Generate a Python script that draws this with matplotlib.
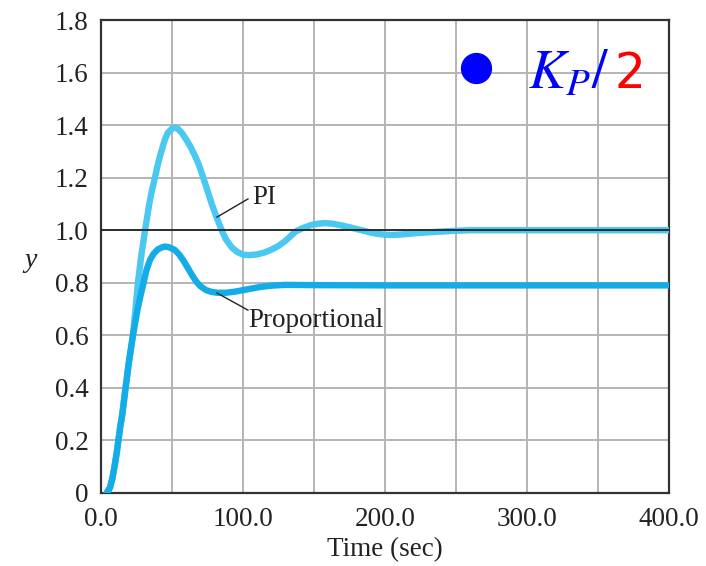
import matplotlib
matplotlib.use("Agg")
import matplotlib.pyplot as plt

# ---- data ----
t_pi = [4, 6.3, 8, 9.5, 11, 12, 13.5, 15, 17.3, 19.7, 22.5, 24.3, 26, 28.3, 31, 34, 36, 38, 40,
        42.5, 45, 47, 50, 52, 54, 57, 60, 63, 66, 69, 72, 75, 78, 81, 85, 88, 92, 96, 100, 104,
        110, 115, 120, 125, 130, 137, 142, 148, 153, 158, 163, 168, 176, 185, 190, 195, 200,
        205, 212, 220, 230, 240, 250, 260, 300, 350, 400]
y_pi = [0.0, 0.02, 0.055, 0.1, 0.15, 0.19, 0.25, 0.3, 0.4, 0.5, 0.6, 0.7, 0.8, 0.9, 1.0, 1.1, 1.155, 1.2, 1.25,
        1.3, 1.345, 1.37, 1.387, 1.39, 1.387, 1.37, 1.345, 1.318, 1.285, 1.248, 1.2, 1.15, 1.1, 1.055, 1.0, 0.965, 0.935, 0.917, 0.907, 0.905,
        0.908, 0.915, 0.926, 0.94, 0.96, 0.995, 1.008, 1.02, 1.025, 1.027, 1.025, 1.02, 1.01, 0.998, 0.991, 0.986, 0.983,
        0.982, 0.984, 0.988, 0.992, 0.995, 0.998, 1.0, 1.0, 1.0, 1.0]

t_p = [4, 6.3, 8, 9.5, 11, 12, 13.5, 15, 17.3, 19.7, 22.5, 25.8, 28, 30, 32, 34.5, 37, 40, 43, 45,
       48, 52, 55, 58, 61, 64, 67, 70, 74, 78, 82, 88, 94, 100, 106, 112, 120, 130, 150, 200, 300, 400]
y_p = [0.0, 0.02, 0.055, 0.1, 0.15, 0.19, 0.25, 0.3, 0.4, 0.5, 0.6, 0.7, 0.755, 0.8, 0.848, 0.887, 0.91, 0.927, 0.935, 0.938,
       0.935, 0.925, 0.908, 0.885, 0.858, 0.83, 0.805, 0.787, 0.772, 0.765, 0.762, 0.762, 0.766, 0.772, 0.778, 0.784, 0.789, 0.792, 0.791, 0.79, 0.79, 0.79]

x_ticks = [0, 100, 200, 300, 400]
x_ticklabels = ["0.0", "100.0", "200.0", "300.0", "400.0"]
y_ticks = [0, 0.2, 0.4, 0.6, 0.8, 1.0, 1.2, 1.4, 1.6, 1.8]
y_ticklabels = ["0", "0.2", "0.4", "0.6", "0.8", "1.0", "1.2", "1.4", "1.6", "1.8"]

W, H = 706, 566
plt.rcParams['font.family'] = ['Liberation Serif', 'DejaVu Serif']
plt.rcParams['mathtext.fontset'] = 'stix'

fig = plt.figure(figsize=(W / 100, H / 100), dpi=100)
ax = fig.add_axes([101 / W, 1 - 493 / H, (669 - 101) / W, (493 - 20) / H])

ax.set_xlim(0, 400)
ax.set_ylim(0, 1.8)
ax.set_xticks(x_ticks)
ax.set_xticklabels(x_ticklabels)
ax.set_xticks([50, 150, 250, 350], minor=True)
ax.set_yticks(y_ticks)
ax.set_yticklabels(y_ticklabels)
ax.tick_params(which='both', length=0, labelsize=19.5, colors='#222222')
ax.tick_params(axis='x', pad=10)
ax.tick_params(axis='y', pad=9)
ax.grid(True, which='both', color='#b4b4b4', linewidth=1.4)
ax.set_axisbelow(True)
for s in ax.spines.values():
    s.set_color('#333333')
    s.set_linewidth(1.6)

ax.plot(t_pi, y_pi, color='#4ac8f2', linewidth=4.6, solid_capstyle='round',
        solid_joinstyle='round', zorder=3)
ax.plot(t_p, y_p, color='#14ace6', linewidth=4.6, solid_capstyle='round',
        solid_joinstyle='round', zorder=4)
ax.axhline(1.0, color='#222222', linewidth=1.3, zorder=5)

# annotations
ax.plot([81.7, 103.5], [1.05, 1.119], color='#222222', linewidth=1.0, zorder=6)
ax.text(106.3, 1.10, 'PI', fontsize=19.5, ha='left', va='baseline', color='#222222')
ax.plot([81.7, 103.5], [0.761, 0.696], color='#222222', linewidth=1.0, zorder=6)
ax.text(103.5, 0.632, 'Proportional', fontsize=19.5, ha='left', va='baseline', color='#222222')

# marker + K_P/2 label
ax.plot([264], [1.617], marker='o', markersize=21.5, color='#0000ff', linestyle='none',
        clip_on=False, zorder=7)
fig.text(528 / W, 1 - 88 / H, r'$K_P/$', fontsize=40, color='#0000ff', ha='left', va='baseline')
fig.text(615 / W, 1 - 88 / H, '2', fontsize=35, color='#ff0000', ha='left', va='baseline',
         family='DejaVu Sans')

fig.text(385 / W, 1 - 550 / H, 'Time (sec)', fontsize=19.5, ha='center', va='center', color='#222222')
fig.text(31 / W, 1 - 261 / H, 'y', fontsize=20, style='italic', ha='center', va='center', color='#222222')

fig.savefig('out.png', dpi=100)
